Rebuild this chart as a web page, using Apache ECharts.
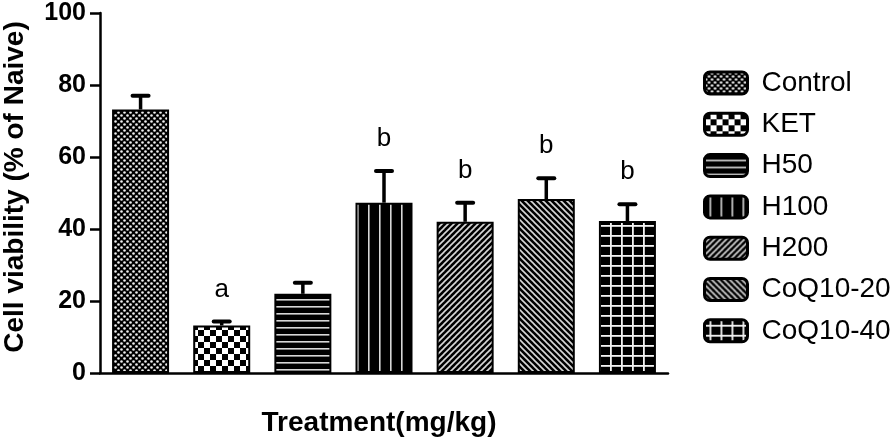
<!DOCTYPE html>
<html><head><meta charset="utf-8">
<script src="https://cdn.jsdelivr.net/npm/echarts@6/dist/echarts.min.js"></script>
<style>html,body{margin:0;padding:0;background:#fff}#c{width:896px;height:442px}</style>
</head><body><div id="c"></div>
<script>
const categories = ['Control', 'KET', 'H50', 'H100', 'H200', 'CoQ10-20', 'CoQ10-40'];
const means = [73.2, 13.2, 22.0, 47.3, 42.0, 48.3, 42.2];
const sems = [3.8, 1.1, 3.1, 8.8, 5.3, 5.8, 4.7];
const letters = ['', 'a', '', 'b', 'b', 'b', 'b'];
const yTicks = [0, 20, 40, 60, 80, 100];

const FONT = '"Liberation Sans", Arial, sans-serif';

function tile(w, h, draw) {
  const c = document.createElement('canvas');
  c.width = w; c.height = h;
  const g = c.getContext('2d');
  g.fillStyle = '#000'; g.fillRect(0, 0, w, h);
  draw(g, w, h);
  return { image: c, repeat: 'repeat' };
}
const light = '#d8d8d8';
const patterns = [
  tile(6, 6, g => { g.fillStyle = '#f0f0f0';
    [[1.5,1.5],[4.5,4.5]].forEach(p => { g.beginPath(); g.arc(p[0], p[1], 1.3, 0, Math.PI*2); g.fill(); }); }),
  tile(12, 12, g => { g.fillStyle = '#fff'; g.fillRect(6, 0, 6, 6); g.fillRect(0, 6, 6, 6); }),
  tile(4, 7, g => { g.fillStyle = light; g.fillRect(0, 5, 4, 1.6); }),
  tile(11, 4, g => { g.fillStyle = light; g.fillRect(5, 0, 1.6, 4); }),
  tile(6, 6, g => { g.strokeStyle = light; g.lineWidth = 1.6;
    [[-6,6,6,-6],[0,6,6,0],[0,12,12,0]].forEach(l => { g.beginPath(); g.moveTo(l[0], l[1]); g.lineTo(l[2], l[3]); g.stroke(); }); }),
  tile(6, 6, g => { g.strokeStyle = light; g.lineWidth = 1.6;
    [[-6,0,6,12],[0,0,6,6],[0,-6,12,6]].forEach(l => { g.beginPath(); g.moveTo(l[0], l[1]); g.lineTo(l[2], l[3]); g.stroke(); }); }),
  tile(11, 10, g => { g.fillStyle = '#f4f4f4'; g.fillRect(5, 0, 1.8, 10); g.fillRect(0, 5, 11, 1.8); })
];

const barSeries = categories.map((name, i) => ({
  name: name,
  type: 'bar',
  barWidth: 57,
  barGap: '-100%',
  data: categories.map((c, j) => j === i ? means[i] : '-'),
  itemStyle: { color: patterns[i], borderColor: '#000', borderWidth: 2 },
  emphasis: { disabled: true },
  animation: false
}));

const errData = categories.map((c, i) => [i, means[i], means[i] + sems[i], letters[i]]);

const errSeries = {
  type: 'custom',
  name: 'err',
  data: errData,
  encode: { x: 0, y: 2 },
  z: 10,
  silent: true,
  animation: false,
  renderItem: function (params, api) {
    const base = api.coord([api.value(0), api.value(1)]);
    const top = api.coord([api.value(0), api.value(2)]);
    const x = base[0];
    const children = [
      { type: 'line', shape: { x1: x, y1: base[1], x2: x, y2: top[1] }, style: { stroke: '#000', lineWidth: 3.5 } },
      { type: 'line', shape: { x1: x - 8, y1: top[1], x2: x + 8, y2: top[1] }, style: { stroke: '#000', lineWidth: 4, lineCap: 'round' } }
    ];
    const letter = letters[params.dataIndex];
    if (letter) {
      children.push({ type: 'text', style: { text: letter, x: x, y: top[1] - 19, align: 'center', verticalAlign: 'bottom',
        fontSize: 26, fontFamily: FONT, fill: '#000' } });
    }
    return { type: 'group', children: children };
  }
};

const chart = echarts.init(document.getElementById('c'), null, { renderer: 'canvas' });
chart.setOption({
  backgroundColor: '#fff',
  animation: false,
  grid: { left: 100, right: 228, top: 13, bottom: 69, containLabel: false, outerBoundsMode: 'none' },
  legend: {
    orient: 'vertical',
    left: 698,
    top: 64,
    data: categories,
    icon: 'roundRect',
    itemWidth: 43,
    itemHeight: 22,
    itemGap: 13.3,
    selectedMode: false,
    textStyle: { fontSize: 28, fontFamily: FONT, color: '#000', padding: [0, 0, 0, 9], lineHeight: 22 },
    itemStyle: { borderColor: '#000', borderWidth: 3 }
  },
  xAxis: {
    type: 'category',
    data: categories,
    name: 'Treatment(mg/kg)',
    nameLocation: 'middle',
    nameGap: 36,
    nameTextStyle: { fontSize: 28, fontWeight: 'bold', fontFamily: FONT, color: '#000', padding: [0, 10, 0, 0] },
    axisLine: { lineStyle: { color: '#000', width: 2.5 } },
    axisTick: { alignWithLabel: true, length: 12, interval: function (i) { return i === 3; }, lineStyle: { color: '#000', width: 2.5 } },
    axisLabel: { show: false },
    splitLine: { show: false }
  },
  yAxis: {
    type: 'value',
    min: yTicks[0],
    max: yTicks[yTicks.length - 1],
    interval: yTicks[1] - yTicks[0],
    name: 'Cell viability (% of Naive)',
    nameLocation: 'middle',
    nameGap: 71,
    nameTextStyle: { fontSize: 28, fontWeight: 'bold', fontFamily: FONT, color: '#000', padding: [0, 0, 0, 12] },
    axisLine: { show: true, lineStyle: { color: '#000', width: 2.5 } },
    axisTick: { show: true, length: 10, lineStyle: { color: '#000', width: 2.5 } },
    axisLabel: { fontSize: 25, fontWeight: 'bold', fontFamily: FONT, color: '#000', margin: 14 },
    splitLine: { show: false }
  },
  series: barSeries.concat([errSeries])
});
</script></body></html>
